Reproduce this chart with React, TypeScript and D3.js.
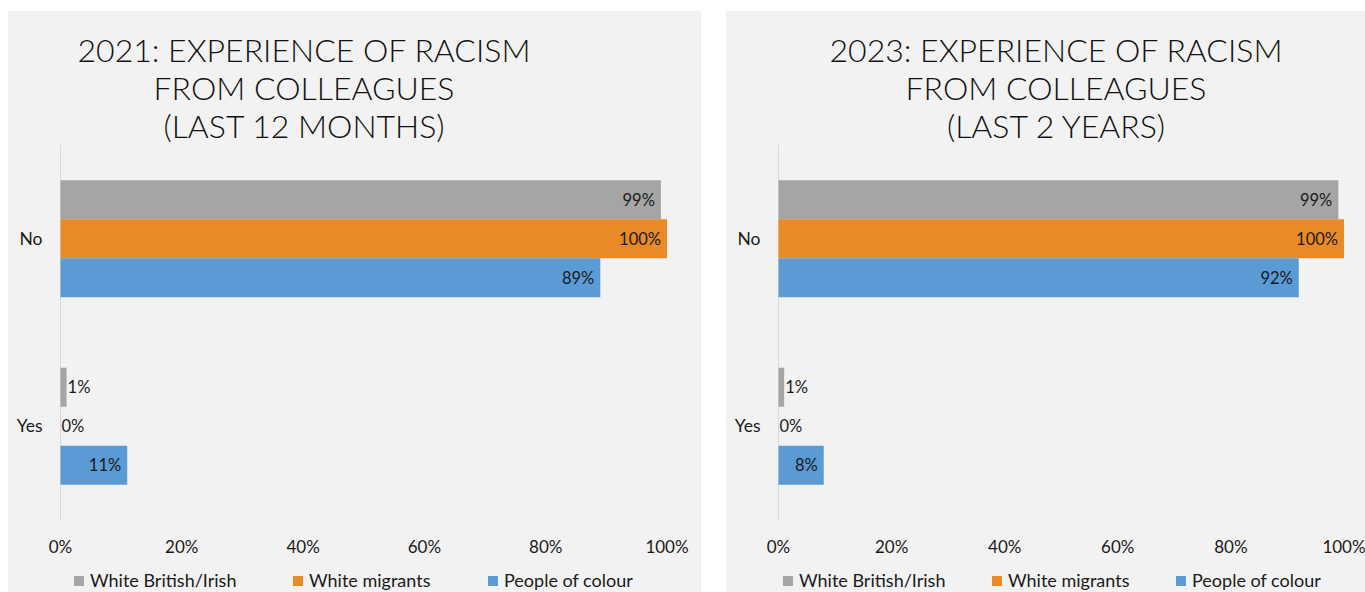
import React from "react";
import * as d3 from "d3";

const categories = ["No", "Yes"];
const seriesNames = ["White British/Irish", "White migrants", "People of colour"];
const seriesColors = ["#A5A5A5", "#E98A26", "#5B9BD5"];
const values2021 = [
  [99, 1],
  [100, 0],
  [89, 11],
];
const values2023 = [
  [99, 1],
  [100, 0],
  [92, 8],
];
const xTicks = [0, 20, 40, 60, 80, 100];
const title2021 = ["2021: EXPERIENCE OF RACISM", "FROM COLLEAGUES", "(LAST 12 MONTHS)"];
const title2023 = ["2023: EXPERIENCE OF RACISM", "FROM COLLEAGUES", "(LAST 2 YEARS)"];

const labelFont = "Lato, 'Open Sans', sans-serif";

type PanelProps = {
  x: number;
  w: number;
  x0: number;
  x1: number;
  titleCx: number;
  title: string[];
  values: number[][];
  legendX: number[];
};

function textWidth(s: string, size: number) {
  // rough estimate for fit decision
  return s.length * size * 0.55;
}

function Panel({ x, w, x0, x1, titleCx, title, values, legendX }: PanelProps) {
  const xs = d3.scaleLinear().domain([0, 100]).range([x0, x1]);
  const plotTop = 145;
  const plotBottom = 520;
  const ys = d3.scaleBand().domain(categories).range([plotTop, plotBottom]);
  const groupH = 117;
  const inner = d3
    .scaleBand()
    .domain(seriesNames)
    .range([0, groupH]);
  const fs = 16.5;
  return (
    <g>
      <rect x={x} y={11} width={w} height={592 - 11} fill="#F2F2F2" />
      {title.map((t, i) => (
        <text
          key={i}
          x={titleCx}
          y={62 + i * 38}
          textAnchor="middle"
          fontFamily="Lato, sans-serif"
          fontWeight={300}
          fontSize={32}
          fill="#111"
        >
          {t}
        </text>
      ))}
      <line x1={x0} x2={x0} y1={plotTop} y2={plotBottom} stroke="#D9D9D9" strokeWidth={1} />
      {categories.map((c, ci) => {
        const cy = (ys(c) as number) + ys.bandwidth() / 2;
        const gy = cy - groupH / 2;
        return (
          <g key={c}>
            <text x={x0 - 18} y={cy + 6} textAnchor="end" fontFamily={labelFont} fontSize={17.5} fill="#1a1a1a">
              {c}
            </text>
            {seriesNames.map((s, si) => {
              const v = values[si][ci];
              const by = gy + (inner(s) as number);
              const bw = xs(v) - xs(0);
              const label = `${v}%`;
              const fits = bw > textWidth(label, fs) + 12;
              return (
                <g key={s}>
                  {v > 0 && (
                    <rect x={xs(0)} y={by} width={bw} height={inner.bandwidth()} fill={seriesColors[si]} />
                  )}
                  <text
                    x={fits ? xs(v) - 6 : xs(v) + 1}
                    y={by + inner.bandwidth() / 2 + 6}
                    textAnchor={fits ? "end" : "start"}
                    fontFamily={labelFont}
                    fontSize={fs}
                    fill="#1a1a1a"
                  >
                    {label}
                  </text>
                </g>
              );
            })}
          </g>
        );
      })}
      {xTicks.map((t) => (
        <text key={t} x={xs(t)} y={553} textAnchor="middle" fontFamily={labelFont} fontSize={17} fill="#1a1a1a">
          {`${t}%`}
        </text>
      ))}
      {seriesNames.map((s, si) => (
        <g key={s}>
          <rect x={legendX[si]} y={576} width={10} height={10} fill={seriesColors[si]} />
          <text x={legendX[si] + 16} y={587} fontFamily={labelFont} fontSize={18} fill="#1a1a1a">
            {s}
          </text>
        </g>
      ))}
    </g>
  );
}

export default function App() {
  return (
    <svg
      width={1365}
      height={592}
      style={{ position: "absolute", left: 0, top: 0, display: "block" }}
    >
      <rect x={0} y={0} width={1365} height={592} fill="#FFFFFF" />
      <Panel
        x={8}
        w={693}
        x0={60.5}
        x1={667}
        titleCx={304}
        title={title2021}
        values={values2021}
        legendX={[74, 293, 488]}
      />
      <Panel
        x={726}
        w={639}
        x0={778.5}
        x1={1344}
        titleCx={1056}
        title={title2023}
        values={values2023}
        legendX={[783, 992, 1176]}
      />
    </svg>
  );
}
